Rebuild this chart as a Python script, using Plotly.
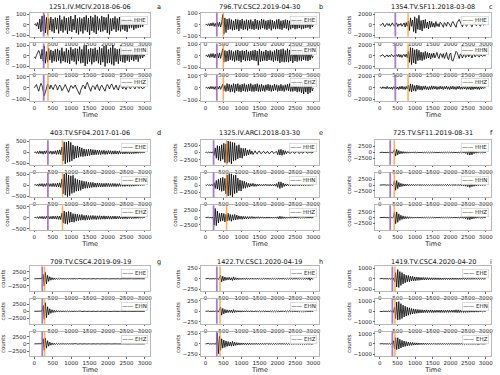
import numpy as np
import plotly.graph_objects as go

W, H = 500, 375

TITLES = ["1251.IV.MCIV.2018-06-06", "796.TV.CSC2.2019-04-30", "1354.TV.SF11.2018-03-08",
          "403.TV.SF04.2017-01-06", "1325.IV.ARCI.2018-03-30", "725.TV.SF11.2019-08-31",
          "709.TV.CSC4.2019-09-19", "1422.TV.CSC1.2020-04-19", "1419.TV.CSC4.2020-04-20"]
LETTERS = ["a", "b", "c", "d", "e", "f", "g", "h", "i"]
HH = ["HHE", "HHN", "HHZ"]
EH = ["EHE", "EHN", "EHZ"]
CHANNELS = [HH, EH, HH, EH, HH, HH, EH, EH, EH]
P_PICKS = [255, 315, 441, 369, 225, 296, 216, 315, 358]
S_PICKS = [372, 495, 802, 766, 586, 412, 279, 405, 430]
Y_TICK = [100, 100, 2000, 500, 2500, 2500, 2500, 250, 1000]
X_TICKS = [0, 500, 1000, 1500, 2000, 2500, 3000]

# ---- waveforms (counts), samples evenly spread over 0..3000 ----
A_HHE = [0, 10, -14, 22, -40, 55, -70, 85, -60, 95,
         -80, 70, -95, 60, -50, 75, -65, 55, -80, 70,
         -45, 65, -85, 90, -60, 50, -75, 80, -55, 65,
         -90, 70, -60, 85, -70, 55, -50, 95, -80, 60,
         -95, 70, -65, 60, -85, 75, -55, 90, -70, 65,
         -100, 85, -60, 70, -75, 95, -90, 80, -55, 60,
         -70, 85, -65, 75, -50, 70, -80, 100, -95, 60,
         -60, 65, -45, 80, -70, 60, -55, 75, -65, 50,
         -45, 55, -60, 45, -70, 50, -35, 60, -30, 45,
         -50, 40, -35, 45, -30, 35, -25, 30, -20, 15, 0]
A_HHN = [-10, -25, 5, 30, 50, 20, -30, 60, -50, 90,
         -70, 40, -60, 70, -40, 55, -65, 45, -50, 60,
         -55, 65, -45, 50, -70, 75, -50, 40, -60, 70,
         -65, 55, -75, 80, -45, 60, -55, 70, -80, 65,
         -50, 85, -70, 60, -65, 90, -95, 100, -75, 60,
         -55, 70, -80, 65, -60, 75, -50, 55, -70, 80,
         -85, 70, -60, 90, -100, 95, -70, 60, -65, 75,
         -80, 100, -90, 70, -55, 60, -75, 65, -50, 70,
         -60, 55, -65, 75, -45, 50, -55, 60, -40, 45,
         -50, 40, -35, 45, -55, 30, -25, 35, -20, 15, -5]
A_HHZ = [0, 15, 30, -5, -30, 10, 40, 20, -20, -70,
         -40, 10, 35, 20, -10, 25, 5, -15, 10, 30,
         15, -20, 5, 25, 10, -25, -10, 20, 30, 5,
         -15, -40, -10, 20, 15, -5, 10, 25, 0, -20,
         -35, -60, -20, 10, 25, 15, -10, 30, 50, 20,
         -10, -30, 5, 20, 10, -15, 15, 30, -5, -25,
         10, 25, 5, -20, -30, 10, 30, 15, -10, 20,
         35, 10, -15, 5, 25, -5, -20, 15, 30, 10,
         -10, 20, 5, -15, 10, 25, 0, -10, 15, 20,
         5, -10, 10, 20, 0, -5, 15, 5, -10, 5, 0]

B_EHE = [0, 5, -8, 10, -12, 15, -10, 18, -15, 12,
         -18, 20, -15, 22, -20, 15, 90, -85, 60, -70,
         50, -45, 55, -40, 45, -50, 35, -45, 50, -40,
         45, -55, 40, -35, 50, -45, 35, -40, 45, -50,
         40, -35, 45, -40, 30, -45, 50, -35, 40, -45,
         35, -40, 50, -30, 45, -40, 35, -45, 40, -35,
         45, -50, 40, -35, 30, -40, 45, -35, 50, -40,
         35, -45, 40, -30, 45, -35, 40, -50, 35, -40,
         45, -30, 35, -40, 30, -35, 40, -30, 35, -40,
         30, -35, 40, -30, 35, -25, 30, -35, 25, -20, 0]
B_EHN = [0, 6, -10, 12, -15, 18, -12, 20, -18, 15,
         -20, 22, -18, 25, -22, 20, 60, -55, 45, -50,
         40, -45, 50, -35, 45, -40, 35, -50, 45, -40,
         50, -45, 40, -55, 45, -35, 40, -45, 50, -40,
         35, -45, 40, -35, 45, -40, 50, -45, 40, -80,
         55, -50, 40, -45, 35, -40, 50, -45, 40, -35,
         45, -40, 35, -50, 45, -40, 55, -45, 50, -60,
         55, -50, 60, -55, 45, -50, 60, -55, 50, -45,
         55, -60, 50, -45, 40, -50, 45, -40, 50, -45,
         40, -35, 45, -40, 35, -45, 30, -35, 25, -20, 0]
B_EHZ = [0, 5, -6, 8, -10, 12, -8, 10, -12, 10,
         -15, 12, -10, 15, -12, 10, 30, -25, 20, -30,
         35, -25, 30, -35, 25, -30, 35, -40, 30, -25,
         35, -30, 25, -35, 30, -25, 35, -30, 25, -30,
         30, -25, 35, -30, 25, -30, 30, -25, 35, -30,
         25, -30, 30, -25, 20, -30, 25, -20, 30, -25,
         25, -30, 20, -25, 30, -20, 25, -30, 20, -25,
         30, -25, 20, -30, 25, -20, 30, -25, 35, -30,
         25, -30, 35, -25, 30, -35, 25, -30, 35, -40,
         45, -50, 40, -35, 45, -50, 55, -40, 35, -25, 0]

C_HHE = [0, -100, 50, 300, -200, -400, 100, 250, -150, 200,
         -300, 150, 350, -100, -250, 200, 300, -350, 150, -100,
         250, -300, 200, 350, -450, 400, -300, 700, -1100, 1300,
         -300, 900, -1300, 1500, -1600, 1200, -900, 1800, -1000, 800,
         -1200, 900, -700, 1000, -600, 500, -800, 700, -500, 600,
         -400, 300, -500, 600, -300, 200, -400, 500, 300, -200,
         -500, 400, 200, -300, 500, 300, -200, -400, 300, 600,
         200, -300, -500, 400, 800, 1000, 500, -200, -400, 300,
         500, -100, -300, 200, 600, 300, -200, -400, 100, 500,
         300, -200, 100, 400, -100, -300, 200, 300, -100, 50, 0]
C_HHN = [0, -50, 100, 200, -100, -250, 50, 150, -200, 100,
         -150, 250, 100, -200, 150, -100, 200, -150, 300, -250,
         200, -300, 150, 250, -200, 300, -350, 800, -1200, 1500,
         -1600, 1400, -1300, 1100, -1500, 1200, -900, 1000, -800, 700,
         -900, 600, -700, 800, -500, 600, -400, 500, -600, 400,
         -300, 500, -400, 300, 600, -200, -500, 400, 300, -300,
         400, -500, 300, 600, -400, -700, 300, 500, -800, -1000,
         -400, 300, 800, 600, -200, -500, 300, 200, -400, 300,
         500, -300, -100, 400, -200, 300, 100, -400, 200, 300,
         -200, 100, 300, -100, -200, 200, 100, -100, 50, -50, 0]
C_HHZ = [0, 100, -150, 200, -100, 150, -200, 250, -150, 100,
         -200, 150, -250, 200, -100, 250, -200, 150, -300, 250,
         -200, 300, -250, 200, -300, 250, -200, 500, -600, 700,
         -700, 600, -500, 400, -600, 500, -300, 400, -350, 300,
         -400, 300, -250, 350, -300, 200, -350, 250, -300, 350,
         -250, 300, -200, 250, -300, 200, -250, 300, -200, 250,
         -300, 250, -200, 300, -250, 200, -300, 250, -200, 300,
         -250, 200, -300, 250, -200, 300, -250, 200, -250, 300,
         -200, 250, -300, 200, -250, 300, -350, 400, -300, 250,
         -200, 300, -250, 200, -300, 250, -200, 150, -100, 50, 0]

D_EHE = [0, 30, -40, 50, -60, 70, -50, 60, -80, 70,
         -60, 80, -70, 60, -50, 70, -80, 60, -70, 80,
         -90, 100, -80, 120, -100, 250, -380, 480, -520, 470,
         -450, 520, -420, 460, -380, 340, -300, 280, -250, 300,
         -220, 250, -180, 210, -190, 160, -170, 140, -160, 150,
         -140, 150, -120, 130, -110, 120, -100, 110, -90, 100,
         -100, 90, -80, 100, -90, 80, -85, 90, -70, 80,
         -80, 70, -75, 80, -70, 65, -80, 75, -60, 70,
         -70, 60, -65, 70, -55, 60, -65, 55, -60, 50,
         -55, 50, -45, 50, -40, 45, -35, 30, -25, 15, 0]
D_EHN = [0, 25, -35, 45, -55, 60, -50, 65, -70, 60,
         -65, 70, -60, 75, -65, 60, -70, 80, -75, 70,
         -80, 90, -85, 100, -110, 280, -400, 500, -460, 520,
         -530, 450, -480, 420, -380, 440, -340, 300, -280, 250,
         -260, 220, -240, 200, -180, 170, -150, 160, -140, 130,
         -130, 120, -110, 120, -100, 90, -100, 95, -85, 90,
         -90, 80, -85, 75, -80, 85, -70, 80, -75, 70,
         -70, 75, -65, 70, -75, 60, -65, 70, -60, 65,
         -60, 55, -65, 60, -50, 55, -60, 50, -55, 45,
         -50, 45, -40, 45, -35, 40, -30, 25, -20, 15, 0]
D_EHZ = [0, 20, -30, 40, -45, 50, -40, 55, -60, 50,
         -55, 60, -50, 65, -60, 55, -65, 70, -60, 65,
         -70, 75, -80, 70, -90, 200, -250, 300, -280, 250,
         -300, 280, -220, 250, -200, 180, -210, 170, -160, 150,
         -140, 130, -120, 140, -110, 100, -120, 110, -100, 90,
         -100, 90, -85, 95, -80, 85, -90, 80, -75, 85,
         -80, 75, -70, 80, -75, 70, -65, 75, -70, 65,
         -70, 65, -60, 70, -65, 60, -55, 65, -60, 55,
         -60, 55, -50, 60, -55, 50, -45, 55, -50, 45,
         -45, 40, -40, 45, -35, 40, -30, 25, -20, 10, 0]

E_HHE = [0, 100, -150, 200, -100, 150, -200, 300, -1000, 1600,
         -2000, 2400, -2700, 2200, -3000, 2700, -2400, 3200, -3500, 3000,
         -3800, 4000, -3400, 3800, -4000, 3500, -3000, 3400, -2700, 2400,
         -2200, 2700, -1900, 1600, -2000, 1400, -1200, 1500, -1100, 900,
         -800, 1000, -600, 500, -700, 300, 600, -200, -500, 300,
         500, -300, -400, 200, 400, -200, -300, 300, 200, -400,
         -200, 300, 400, -300, -200, 200, 300, -800, 1000, -900,
         1100, -1000, 800, -700, 600, -400, 300, 200, -300, -200,
         300, 400, -200, -300, 200, 400, -100, -400, 200, 300,
         -300, -100, 300, 200, -200, -300, 100, 200, -100, 50, 0]
E_HHN = [0, -100, 200, -150, 100, -200, 250, -300, 800, -1200,
         1600, -1400, 2000, -1800, 2400, -2200, 2700, -2000, 2300, -3100,
         3500, -3800, 4000, -3600, 3900, -4100, 3400, -3000, 3500, -2700,
         2400, -2000, 1800, -2100, 1500, -1200, 1300, -1100, 900, -800,
         600, -700, 500, -400, 600, -500, 400, -450, 300, -350,
         300, -250, 200, -300, 250, -200, 300, -250, 200, -300,
         250, -300, 200, -250, 300, -400, 500, -800, 1100, -1200,
         1100, -900, 700, -500, 400, -300, 350, -250, 300, -200,
         250, -300, 200, -250, 300, -200, 250, -300, 200, -250,
         200, -250, 300, -200, 250, -200, 150, -100, 100, -50, 0]
E_HHZ = [0, 80, -100, 120, -90, 100, -150, 200, -2600, 3200,
         -2800, 2300, -1900, 1500, -1300, 1600, -1100, 1400, -1500, 1100,
         -1200, 1500, -1000, 1100, -1300, 1000, -900, 1100, -800, 900,
         -650, 600, -550, 500, -600, 450, -500, 400, -450, 350,
         -400, 350, -300, 380, -320, 280, -300, 260, -250, 300,
         -280, 250, -220, 260, -240, 200, -230, 220, -200, 230,
         -210, 200, -220, 190, -200, 210, -250, 300, -450, 500,
         -400, 350, -300, 250, -280, 230, -220, 200, -210, 190,
         -200, 180, -190, 200, -170, 180, -160, 170, -150, 160,
         -150, 140, -130, 150, -120, 110, -100, 80, -50, 20, 0]

F_HHE = [0, 60, -80, 100, -90, 110, -120, 100, -130, 150,
         -200, 250, -300, 350, 1200, -1500, 1300, -1000, 800, -600,
         500, -450, 400, -350, 300, -350, 280, -300, 250, -260,
         240, -220, 250, -230, 200, -220, 210, -190, 200, -180,
         190, -200, 170, -180, 190, -170, 160, -180, 170, -160,
         180, -170, 160, -190, 170, -160, 180, -170, 150, -160,
         170, -160, 150, -170, 160, -180, 170, -150, 160, -170,
         180, -160, 170, -190, 200, -180, 210, -200, 220, -250,
         300, -400, 600, -900, 1200, -1100, 900, -1000, 700, -500,
         400, -300, 250, -200, 220, -180, 160, -140, 100, -60, 0]
F_HHN = [0, 50, -70, 90, -80, 100, -110, 120, -100, 130,
         -180, 220, -260, 300, 1800, -2200, 1900, -1500, 1100, -800,
         700, -600, 500, -450, 400, -380, 350, -320, 300, -280,
         270, -250, 260, -240, 230, -220, 240, -210, 220, -200,
         210, -200, 190, -210, 200, -190, 180, -200, 190, -180,
         200, -190, 180, -200, 190, -210, 200, -180, 190, -200,
         210, -220, 200, -210, 230, -240, 220, -230, 210, -220,
         200, -210, 220, -230, 240, -250, 260, -280, 300, -350,
         400, -500, 600, -700, 900, -1000, 800, -700, 600, -500,
         400, -350, 300, -250, 200, -180, 150, -120, 100, -50, 0]
F_HHZ = [0, 40, -60, 80, -70, 90, -100, 110, -120, 100,
         -150, 200, -250, 300, 2200, -2600, 2400, -2000, 1600, -1200,
         1000, -800, 700, -600, 500, -450, 400, -380, 350, -300,
         280, -260, 250, -240, 230, -220, 210, -200, 220, -210,
         200, -190, 180, -200, 190, -180, 170, -190, 180, -170,
         180, -170, 160, -180, 170, -160, 180, -170, 160, -150,
         170, -160, 150, -170, 160, -150, 170, -160, 150, -160,
         170, -180, 160, -190, 200, -210, 220, -240, 260, -300,
         350, -450, 600, -800, 1000, -900, 700, -600, 500, -400,
         350, -300, 250, -200, 180, -160, 140, -120, 80, -40, 0]

G_EHE = [0, 20, -30, 40, -35, 50, -60, 80, 1500, -2500,
         2200, -1800, 1200, -900, 700, -500, 400, -350, 300, -250,
         220, -200, 180, -160, 150, -140, 130, -120, 110, -100,
         100, -90, 95, -85, 90, -80, 85, -80, 75, -70,
         75, -70, 65, -70, 60, -65, 60, -55, 60, -55,
         55, -50, 55, -50, 45, -50, 45, -40, 45, -40,
         40, -45, 40, -35, 40, -35, 40, -35, 30, -35,
         30, -35, 30, -30, 35, -30, 25, -30, 25, -30,
         30, -25, 25, -30, 25, -20, 25, -20, 25, -20,
         20, -20, 15, -20, 15, -15, 10, -10, 10, -5, 0]
G_EHN = [0, 25, -35, 45, -40, 55, -65, 90, 2000, -2800,
         3000, -2200, 1600, -1200, 900, -700, 550, -450, 380, -320,
         280, -250, 220, -200, 180, -170, 150, -140, 130, -120,
         110, -105, 100, -95, 90, -85, 85, -80, 75, -75,
         70, -70, 65, -65, 60, -60, 55, -55, 55, -50,
         50, -50, 45, -50, 45, -45, 40, -45, 40, -40,
         40, -40, 35, -40, 35, -35, 35, -30, 35, -30,
         30, -30, 30, -25, 30, -25, 25, -30, 25, -25,
         25, -25, 20, -25, 20, -20, 20, -20, 15, -20,
         15, -15, 15, -15, 10, -10, 10, -10, 5, -5, 0]
G_EHZ = [0, 20, -25, 35, -30, 45, -55, 70, 1800, -2200,
         2000, -1500, 1100, -800, 600, -450, 350, -300, 250, -220,
         200, -180, 160, -150, 140, -130, 120, -110, 100, -95,
         90, -85, 85, -80, 75, -75, 70, -70, 65, -65,
         60, -60, 55, -55, 55, -50, 50, -50, 45, -45,
         45, -45, 40, -40, 40, -40, 35, -35, 35, -35,
         35, -30, 30, -30, 30, -30, 30, -25, 25, -25,
         25, -25, 25, -25, 20, -20, 20, -20, 20, -20,
         20, -20, 15, -20, 15, -15, 15, -15, 15, -15,
         10, -10, 10, -10, 10, -10, 5, -5, 5, -5, 0]

H_EHE = [0, 5, -6, 8, -7, 6, -8, 9, -7, 8,
         -10, 12, -15, 20, 80, -70, 60, -50, 40, -35,
         30, -25, 35, -30, 25, -40, 45, -30, 25, -20,
         18, -20, 15, -18, 16, -15, 14, -16, 15, -14,
         13, -15, 14, -12, 13, -14, 12, -13, 14, -12,
         12, -13, 11, -12, 13, -11, 12, -10, 11, -12,
         10, -11, 12, -10, 11, -12, 10, -11, 12, -10,
         11, -10, 12, -11, 10, -12, 11, -10, 12, -11,
         10, -12, 11, -10, 12, -11, 10, -12, 11, -10,
         12, -11, 10, -12, 14, -16, 40, -35, 15, -8, 0]
H_EHN = [0, 5, -7, 8, -9, 7, -8, 10, -9, 10,
         -12, 14, -18, 25, 100, -90, 70, -60, 45, -40,
         35, -30, 28, -25, 30, -35, 40, -28, 22, -20,
         18, -17, 16, -18, 15, -16, 14, -15, 16, -14,
         13, -14, 15, -13, 12, -14, 13, -12, 14, -13,
         12, -13, 14, -12, 13, -11, 12, -13, 11, -12,
         13, -12, 11, -13, 12, -11, 13, -12, 11, -13,
         12, -11, 13, -12, 11, -13, 12, -11, 13, -12,
         11, -12, 13, -11, 12, -13, 11, -12, 13, -11,
         12, -13, 11, -12, 13, -11, 12, -10, 8, -5, 0]
H_EHZ = [0, 5, -8, 10, -9, 8, -10, 12, -10, 15,
         -20, 250, -230, 180, -150, 120, -100, 90, -80, 70,
         -60, 55, -50, 45, -55, 60, -50, 40, -35, 30,
         -28, 25, -24, 22, -20, 21, -19, 18, -20, 17,
         -18, 16, -17, 15, -16, 15, -14, 16, -15, 14,
         -15, 14, -13, 15, -14, 13, -12, 14, -13, 12,
         -13, 12, -14, 13, -12, 14, -13, 12, -11, 13,
         -12, 13, -11, 12, -13, 11, -12, 13, -11, 12,
         -13, 11, -12, 13, -11, 12, -13, 11, -12, 13,
         -11, 12, -13, 11, -12, 13, -11, 10, -8, 5, 0]

I_EHE = [0, 20, -25, 30, -35, 40, -30, 35, -40, 45,
         -40, 50, -60, 80, -300, 600, -800, 900, -850, 700,
         -650, 600, -500, 450, -400, 350, -300, 320, -280, 250,
         -220, 240, -200, 180, -190, 170, -160, 150, -140, 130,
         -120, 130, -110, 120, -100, 110, -105, 100, -95, 100,
         -90, 95, -85, 90, -80, 85, -90, 80, -85, 75,
         -80, 85, -75, 80, -70, 75, -80, 70, -75, 80,
         -70, 75, -65, 70, -75, 65, -70, 75, -60, 70,
         -65, 60, -70, 65, -60, 55, -65, 60, -55, 60,
         -55, 50, -55, 50, -45, 50, -40, 35, -25, 15, 0]
I_EHN = [0, -20, 30, -25, 40, -35, 30, -40, 45, -35,
         50, -45, 60, -100, 400, -700, 900, -850, 950, -800,
         750, -700, 600, -550, 500, -450, 400, -380, 350, -300,
         280, -260, 240, -220, 200, -190, 180, -170, 160, -150,
         150, -140, 130, -120, 140, -130, 120, -110, 130, -120,
         110, -120, 100, -110, 120, -100, 110, -120, 130, -110,
         100, -120, 110, -100, 120, -110, 100, -90, 110, -100,
         120, -110, 150, -130, 140, -120, 110, -100, 120, -110,
         100, -110, 90, -100, 110, -90, 100, -80, 90, -85,
         80, -75, 70, -80, 65, -60, 55, -45, 30, -15, 0]
I_EHZ = [0, 15, -20, 25, -30, 35, -30, 30, -35, 40,
         -45, 50, -55, 300, -500, 600, -550, 600, -500, 450,
         -400, 350, -300, 280, -250, 220, -200, 180, -160, 150,
         -140, 130, -120, 110, -100, 95, -90, 85, -80, 75,
         -70, 75, -65, 70, -60, 65, -60, 55, -60, 55,
         -50, 55, -50, 45, -50, 45, -45, 40, -45, 40,
         -40, 45, -40, 35, -40, 35, -35, 40, -35, 30,
         -35, 30, -35, 30, -30, 35, -30, 30, -25, 30,
         -30, 25, -30, 25, -25, 30, -25, 20, -25, 20,
         -20, 25, -20, 20, -15, 20, -15, 10, -8, 5, 0]

WAVES = [[A_HHE, A_HHN, A_HHZ], [B_EHE, B_EHN, B_EHZ], [C_HHE, C_HHN, C_HHZ],
         [D_EHE, D_EHN, D_EHZ], [E_HHE, E_HHN, E_HHZ], [F_HHE, F_HHN, F_HHZ],
         [G_EHE, G_EHN, G_EHZ], [H_EHE, H_EHN, H_EHZ], [I_EHE, I_EHN, I_EHZ]]

# ---- layout geometry (pixels) ----
Y_LIM = [115, 105, 2250, 560, 4300, 5200, 4300, 290, 1200]
COL_PX = [(30, 151), (202, 320), (377, 493)]
ROW_PX = [[(10, 34), (41, 66), (73, 99)],
          [(139, 164), (172, 197), (205, 230)],
          [(267, 292), (300, 325), (333, 358)]]
TITLE_Y = [4, 132, 262]
LETTER_X = [160, 322, 493]

FONT = "DejaVu Sans"
PURPLE = "rgba(148,103,189,0.85)"
ORANGE = "rgba(255,150,40,0.75)"


def px(v):
    return v / W


def py(v):
    return 1 - v / H


fig = go.Figure()
layout = dict(width=W, height=H, margin=dict(l=0, r=0, t=0, b=0),
              paper_bgcolor="white", plot_bgcolor="white", showlegend=False,
              font=dict(family=FONT, size=6, color="#222"))
annotations = []
shapes = []

n = 0
for p in range(9):
    r, c = divmod(p, 3)
    x0, x1 = COL_PX[c]
    for k in range(3):
        n += 1
        sfx = "" if n == 1 else str(n)
        y0, y1 = ROW_PX[r][k]
        vals = WAVES[p][k]
        t = np.linspace(0, 3000, len(vals))
        fig.add_trace(go.Scatter(x=t, y=vals, mode="lines", name=CHANNELS[p][k],
                                 line=dict(color="black", width=0.8),
                                 xaxis="x" + sfx, yaxis="y" + sfx, hoverinfo="skip"))
        axstyle = dict(showline=True, mirror=True, linecolor="#b8b8b8", linewidth=0.8,
                       ticks="outside", ticklen=1.5, tickwidth=0.6, tickcolor="#666",
                       showgrid=False, zeroline=False, tickfont=dict(size=5.5, color="#222"))
        xa = dict(domain=[px(x0), px(x1)], range=[-120, 3150], anchor="y" + sfx,
                  tickvals=X_TICKS, ticktext=[str(v) for v in X_TICKS], **axstyle)
        if k == 2:
            xa["title"] = dict(text="Time", font=dict(size=6.5, color="#222"), standoff=1)
        ya = dict(domain=[py(y1), py(y0)], range=[-Y_LIM[p], Y_LIM[p]], anchor="x" + sfx,
                  tickvals=[-Y_TICK[p], 0, Y_TICK[p]],
                  title=dict(text="counts", font=dict(size=5.5, color="#222"), standoff=1),
                  **axstyle)
        layout["xaxis" + sfx] = xa
        layout["yaxis" + sfx] = ya
        # P and S picks
        shapes.append(dict(type="line", xref="x" + sfx, yref="y" + sfx + " domain",
                           x0=P_PICKS[p], x1=P_PICKS[p], y0=0, y1=1,
                           line=dict(color=PURPLE, width=1.8)))
        shapes.append(dict(type="line", xref="x" + sfx, yref="y" + sfx + " domain",
                           x0=S_PICKS[p], x1=S_PICKS[p], y0=0, y1=1,
                           line=dict(color=ORANGE, width=1.6)))
        # legend box
        annotations.append(dict(xref="paper", yref="paper", x=px(x1 - 2), y=py(y0 + 3),
                                xanchor="right", yanchor="top", showarrow=False,
                                text="<span style='font-size:5.5px'>——</span> " + CHANNELS[p][k],
                                font=dict(size=5.5, color="#222"), bgcolor="rgba(255,255,255,0.9)",
                                bordercolor="#d0d0d0", borderwidth=0.7, borderpad=0.6))
    annotations.append(dict(xref="paper", yref="paper", x=px((x0 + x1) / 2), y=py(TITLE_Y[r]),
                            xanchor="center", yanchor="middle", showarrow=False,
                            text=TITLES[p], font=dict(size=6.5, color="#111")))
    annotations.append(dict(xref="paper", yref="paper", x=px(LETTER_X[c]), y=py(TITLE_Y[r]),
                            xanchor="center", yanchor="middle", showarrow=False,
                            text=LETTERS[p], font=dict(size=6.5, color="#111")))

layout["annotations"] = annotations
layout["shapes"] = shapes
fig.update_layout(**layout)
fig.write_html("out.html", config={"displayModeBar": False},
               post_script="document.body.style.margin='0';")
